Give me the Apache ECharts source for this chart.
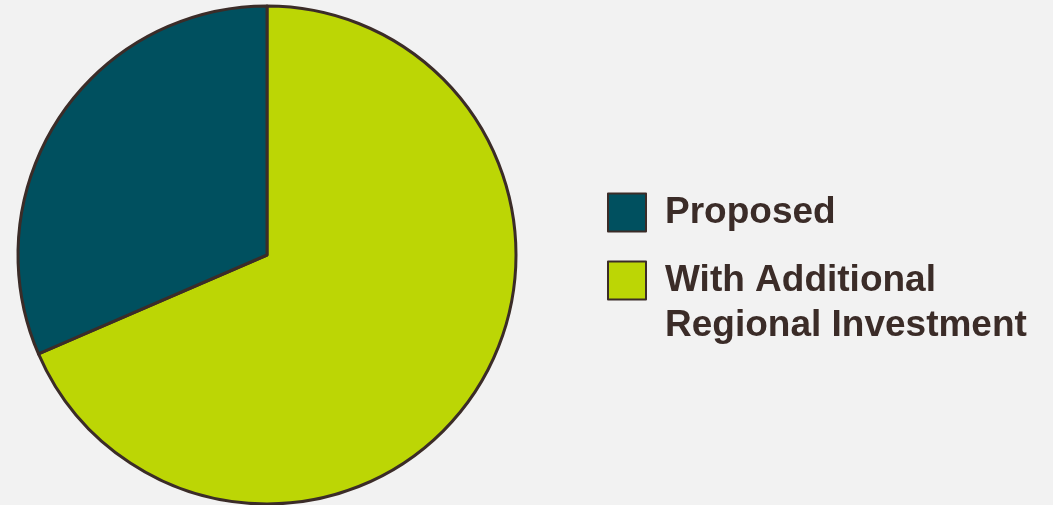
<!DOCTYPE html>
<html>
<head>
<meta charset="utf-8">
<script src="https://cdn.jsdelivr.net/npm/echarts@6/dist/echarts.min.js"></script>
<style>
html,body{margin:0;padding:0;background:#f2f2f2;}
#chart{width:1053px;height:505px;}
</style>
</head>
<body>
<div id="chart"></div>
<script>
const categories = ['With Additional Regional Investment', 'Proposed'];
const values = [68.5, 31.5];
const colors = ['#bcd605', '#00505f'];
const legendOrder = ['Proposed', 'With Additional Regional Investment'];
const legendText = {
  'Proposed': ['Proposed'],
  'With Additional Regional Investment': ['With Additional', 'Regional Investment']
};

const chart = echarts.init(document.getElementById('chart'));
const ink = '#3b2c28';
chart.setOption({
  backgroundColor: '#f2f2f2',
  animation: false,
  legend: {
    data: legendOrder,
    orient: 'vertical',
    left: 607,
    top: 190,
    padding: 0,
    itemWidth: 38,
    itemHeight: 38,
    itemGap: -22,
    icon: 'rect',
    selectedMode: false,
    itemStyle: { borderColor: ink, borderWidth: 2 },
    textStyle: { fontFamily: 'Liberation Sans, Arial, sans-serif', fontSize: 37, fontWeight: 'bold', color: ink, lineHeight: 45,
      rich: { t: { fontFamily: 'Liberation Sans, Arial, sans-serif', fontSize: 37, fontWeight: 'bold', color: ink, lineHeight: 45, padding: [0, 0, 0, 14] } } },
    formatter: function (name) {
      const lines = legendText[name].map(l => '{t|' + l + '}');
      if (lines.length > 1) return '\n' + lines.join('\n');
      return lines[0];
    }
  },
  series: [{
    type: 'pie',
    center: [267, 255],
    radius: 249,
    startAngle: 90,
    clockwise: true,
    label: { show: false },
    labelLine: { show: false },
    emphasis: { disabled: true },
    itemStyle: { borderColor: ink, borderWidth: 3 },
    data: categories.map((c, i) => ({ name: c, value: values[i], itemStyle: { color: colors[i] } }))
  }]
});
</script>
</body>
</html>
